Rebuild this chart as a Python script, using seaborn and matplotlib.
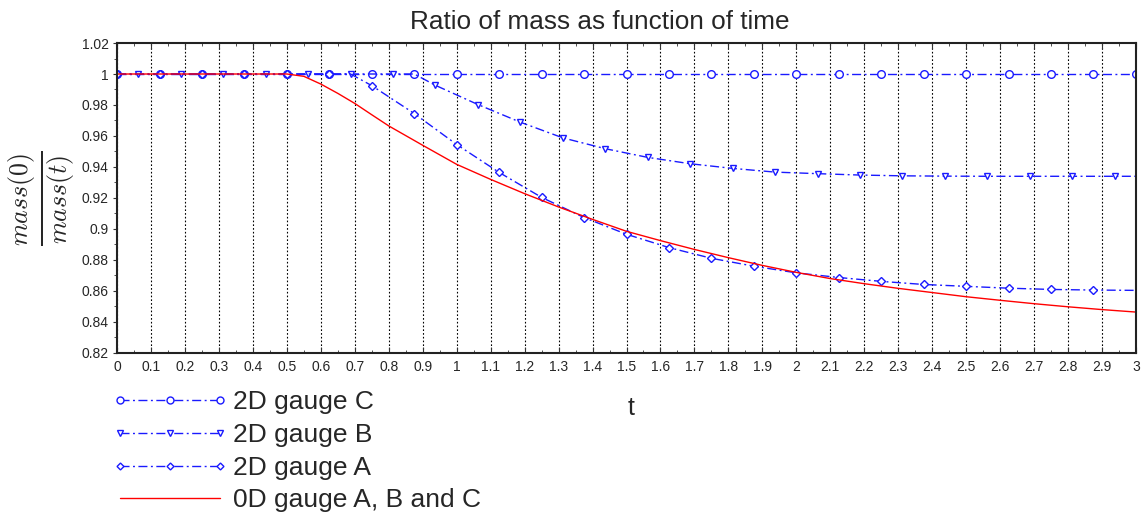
import matplotlib
matplotlib.use('Agg')
import matplotlib.pyplot as plt
from matplotlib.lines import Line2D
from matplotlib.ticker import MultipleLocator, FuncFormatter
import seaborn as sns

# data
t_c = [i * 0.125 for i in range(25)]
gauge_c = [1.0] * 25

t_b = [0.0, 0.0625, 0.1875, 0.3125, 0.4375, 0.5625, 0.6875, 0.8125, 0.875,
       0.9375, 1.0625, 1.1875, 1.3125, 1.4375, 1.5625, 1.6875, 1.8125,
       1.9375, 2.0625, 2.1875, 2.3125, 2.4375, 2.5625, 2.6875, 2.8125,
       2.9375, 3.0]
gauge_b = [1.0, 1.0, 1.0, 1.0, 1.0, 1.0, 1.0, 1.0, 1.0,
           0.9927, 0.9803, 0.9689, 0.9588, 0.9518, 0.9462, 0.9421, 0.9391,
           0.9367, 0.9357, 0.9348, 0.9343, 0.9341, 0.934, 0.934, 0.934,
           0.934, 0.934]
marks_b = [i for i in range(1, len(t_b) - 1) if t_b[i] != 0.875]

t_a = [0.0, 0.125, 0.25, 0.375, 0.5, 0.625, 0.6875, 0.75, 0.875, 1.0,
       1.125, 1.25, 1.375, 1.5, 1.625, 1.75, 1.875, 2.0, 2.125, 2.25,
       2.375, 2.5, 2.625, 2.75, 2.875, 3.0]
gauge_a = [1.0, 1.0, 1.0, 1.0, 1.0, 1.0, 1.0, 0.9925, 0.9745, 0.9545,
           0.9365, 0.9204, 0.9074, 0.8966, 0.888, 0.8811, 0.876, 0.8717,
           0.8687, 0.8662, 0.8642, 0.863, 0.8618, 0.861, 0.8606, 0.8604]
marks_a = [i for i in range(len(t_a) - 1) if t_a[i] != 0.6875]

t_0d = [0.0, 0.1, 0.2, 0.3, 0.4, 0.5, 0.55, 0.6, 0.65, 0.7, 0.75, 0.8,
        0.9, 1.0, 1.1, 1.2, 1.3, 1.4, 1.5, 1.6, 1.7, 1.8, 1.9, 2.0, 2.1,
        2.2, 2.3, 2.4, 2.5, 2.6, 2.7, 2.8, 2.9, 3.0]
gauge_0d = [1.0, 1.0, 1.0, 1.0, 1.0, 1.0, 0.9985, 0.9935, 0.9875, 0.981,
            0.9737, 0.9665, 0.954, 0.9417, 0.932, 0.9228, 0.9142, 0.9062,
            0.8985, 0.8925, 0.8868, 0.8815, 0.8765, 0.872, 0.868, 0.8647,
            0.8617, 0.859, 0.8563, 0.854, 0.8518, 0.8498, 0.848, 0.8464]

labels = ['2D gauge C', '2D gauge B', '2D gauge A', '0D gauge A, B and C']

sns.set_style('ticks')
plt.rcParams['font.family'] = ['Liberation Sans', 'DejaVu Sans']
plt.rcParams['mathtext.fontset'] = 'cm'
plt.rcParams['lines.scale_dashes'] = False

dashdot = (0, (6.5, 2.5, 1.4, 2.5))
blue = '#1a1aff'

fig = plt.figure(figsize=(11.42, 5.15), dpi=100)
ax = fig.add_axes([0.1025, 0.3146, 0.8922, 0.6019])

sns.lineplot(x=t_c, y=gauge_c, ax=ax, color=blue, lw=1, linestyle=dashdot,
             marker='o', ms=5.5, mfc='white', mec=blue, mew=1,
             markevery=list(range(len(t_c))))
sns.lineplot(x=t_b, y=gauge_b, ax=ax, color=blue, lw=1, linestyle=dashdot,
             marker='v', ms=4, mfc='white', mec=blue, mew=1, markevery=marks_b)
sns.lineplot(x=t_a, y=gauge_a, ax=ax, color=blue, lw=1, linestyle=dashdot,
             marker='D', ms=3.8, mfc='white', mec=blue, mew=1, markevery=marks_a)
sns.lineplot(x=t_0d, y=gauge_0d, ax=ax, color='red', lw=1)

ax.set_xlim(0, 3)
ax.set_ylim(0.82, 1.02)
ax.xaxis.set_major_locator(MultipleLocator(0.1))
ax.xaxis.set_minor_locator(MultipleLocator(0.05))
ax.yaxis.set_major_locator(MultipleLocator(0.02))
ax.yaxis.set_minor_locator(MultipleLocator(0.01))
fmt = FuncFormatter(lambda v, p: '%g' % round(v, 2))
ax.xaxis.set_major_formatter(fmt)
ax.yaxis.set_major_formatter(fmt)
ax.tick_params(axis='x', which='both', direction='in', top=True, labelsize=10,
               pad=5, color='#333333')
ax.tick_params(axis='x', which='major', length=4)
ax.tick_params(axis='x', which='minor', length=2)
ax.tick_params(axis='y', which='major', direction='out', length=3, labelsize=10,
               pad=3, color='#333333')
ax.tick_params(axis='y', which='minor', direction='out', length=2, color='#333333')
ax.grid(axis='x', which='major', color='black', linestyle=(0, (1.2, 1.5)), lw=0.8)
for s in ax.spines.values():
    s.set_color('#222222')
    s.set_linewidth(1.5)

ax.set_title('Ratio of mass as function of time', fontsize=18.8, pad=10, x=0.474)
ax.set_xlabel('t', fontsize=18, labelpad=16)
ax.xaxis.label.set_x(0.504)
ax.set_ylabel(r'$\frac{mass(0)}{mass(t)}$', fontsize=26.5, labelpad=3)

handles = [
    Line2D([], [], color=blue, lw=1, linestyle=dashdot, marker='o', ms=5,
           mfc='white', mec=blue, mew=1),
    Line2D([], [], color=blue, lw=1, linestyle=dashdot, marker='v', ms=4,
           mfc='white', mec=blue, mew=1),
    Line2D([], [], color=blue, lw=1, linestyle=dashdot, marker='D', ms=3.5,
           mfc='white', mec=blue, mew=1),
    Line2D([], [], color='red', lw=1),
]
fig.legend(handles, labels, loc='upper left', bbox_to_anchor=(0.098, 0.242),
           frameon=False, fontsize=19, handlelength=4.4, numpoints=3,
           labelspacing=0.33, handletextpad=0.18, borderaxespad=0, borderpad=0)

fig.savefig('out.png', dpi=100)
